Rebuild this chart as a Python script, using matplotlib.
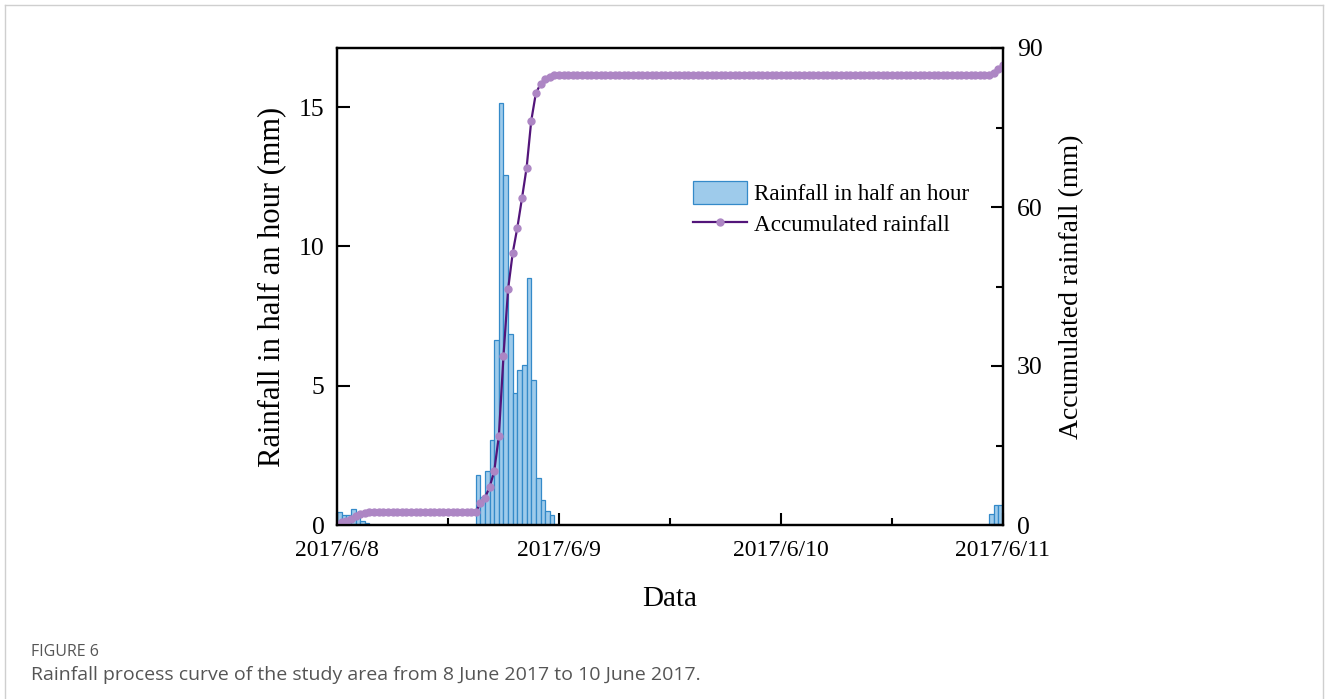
import numpy as np
import matplotlib
matplotlib.use("Agg")
import matplotlib.pyplot as plt
from matplotlib.lines import Line2D

# half-hour rainfall (mm), 144 bins from 2017/6/8 00:00 to 2017/6/11 00:00
n_bins = 144
early_rain = [0.48, 0.35, 0.35, 0.57, 0.40, 0.15, 0.08]          # bins 0-6
storm_rain = [1.80, 1.00, 1.95, 3.05, 6.65, 15.15, 12.55, 6.85,
              4.75, 5.55, 5.75, 8.85, 5.20, 1.70, 0.90, 0.50, 0.35]  # bins 30-46
late_rain = [0.40, 0.72, 0.72]                                     # bins 141-143
storm_start = 30
late_start = 141

day_ticks = [0, 1, 2, 3]
day_labels = ["2017/6/8", "2017/6/9", "2017/6/10", "2017/6/11"]

rain = np.zeros(n_bins)
rain[0:len(early_rain)] = early_rain
rain[storm_start:storm_start + len(storm_rain)] = storm_rain
rain[late_start:late_start + len(late_rain)] = late_rain
accum = np.concatenate([[0.0], np.cumsum(rain)])

x_bins = np.arange(n_bins) / 48.0
x_edges = np.arange(n_bins + 1) / 48.0

plt.rcParams['font.family'] = ['Liberation Serif', 'DejaVu Serif']

W, H = 1328, 699
fig = plt.figure(figsize=(W / 100, H / 100), dpi=100)
ax = fig.add_axes([337 / W, 1 - 525 / H, 666 / W, 477 / H])
ax2 = ax.twinx()

bars = ax.bar(x_bins, rain, width=1 / 48.0, align='edge', color='#9ecbeb',
              edgecolor='#348ac9', linewidth=0.9, label='Rainfall in half an hour')
line, = ax2.plot(x_edges, accum, color='#53157a', lw=1.6, marker='o', ms=5,
                 mfc='#ad86c4', mec='#ad86c4', label='Accumulated rainfall')

ax.set_xlim(0, 3)
ax.set_ylim(0, 17.12)
ax2.set_ylim(0, 90)

ax.set_xticks(day_ticks)
ax.set_xticklabels(day_labels)
ax.set_xticks([0.5, 1.5, 2.5], minor=True)
ax.set_yticks([0, 5, 10, 15])
ax2.set_yticks([0, 30, 60, 90])
ax2.set_yticks([15, 45, 75], minor=True)

for a in (ax, ax2):
    for s in a.spines.values():
        s.set_linewidth(1.6)
ax.tick_params(axis='x', which='major', direction='in', length=9, width=1.5,
               labelsize=17, pad=11)
ax.tick_params(axis='y', which='major', direction='in', length=9, width=1.5,
               labelsize=18.5, pad=9)
ax.tick_params(axis='x', which='minor', direction='in', length=5, width=1.5)
ax2.tick_params(axis='y', which='major', direction='in', length=9, width=1.5,
                labelsize=18.5, pad=10)
ax2.tick_params(axis='y', which='minor', direction='in', length=5, width=1.5)

ax.set_xlabel('Data', fontsize=21, labelpad=18)
ax.set_ylabel('Rainfall in half an hour (mm)', fontsize=22, labelpad=9)
ax2.set_ylabel('Accumulated rainfall (mm)', fontsize=20, labelpad=12)

ax2.legend([bars, line], ['Rainfall in half an hour', 'Accumulated rainfall'],
           loc='upper left', bbox_to_anchor=(0.535, 0.722), frameon=False,
           fontsize=16.7, handlelength=2.3, handleheight=1.15, handletextpad=0.3,
           labelspacing=0.3, numpoints=1, borderaxespad=0, borderpad=0)

# caption
fig.text(31 / W, 1 - 652 / H, 'FIGURE 6', fontsize=11.5, color='#555555',
         family=['Open Sans', 'DejaVu Sans'], va='center')
fig.text(31 / W, 1 - 675 / H,
         'Rainfall process curve of the study area from 8 June 2017 to 10 June 2017.',
         fontsize=14, color='#555555', family=['Open Sans', 'DejaVu Sans'], va='center')

# light frame around the figure panel
fx0, fx1, fy = 5 / W, 1323 / W, 1 - 5 / H
for xs, ys in [([fx0, fx1], [fy, fy]), ([fx0, fx0], [0, fy]), ([fx1, fx1], [0, fy])]:
    fig.add_artist(Line2D(xs, ys, color='#cfcfcf', lw=1, transform=fig.transFigure))

fig.savefig('out.png', dpi=100)
